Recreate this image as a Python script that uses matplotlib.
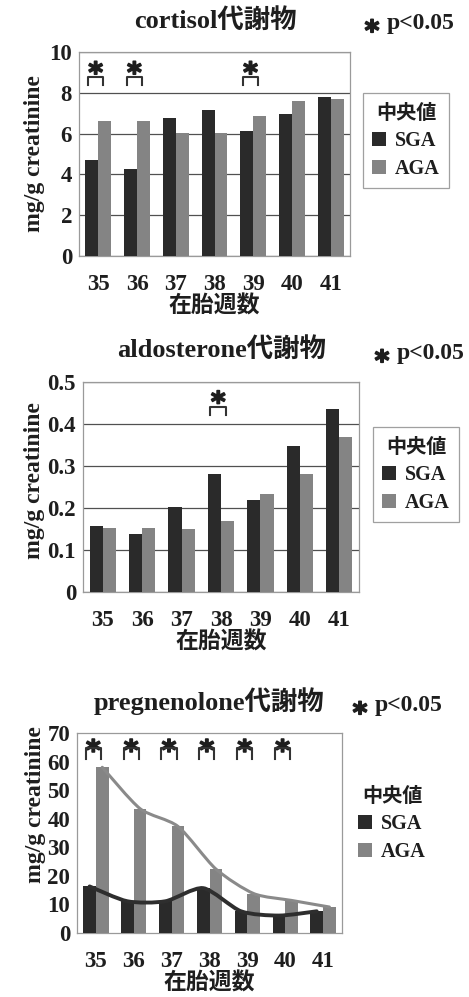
import numpy as np
import matplotlib
matplotlib.use('Agg')
import matplotlib.pyplot as plt
import matplotlib.patheffects as pe
from matplotlib.path import Path
from matplotlib.patches import PathPatch

plt.rcParams['font.family'] = ['Liberation Serif', 'Noto Sans CJK JP']
plt.rcParams['font.weight'] = 'bold'
plt.rcParams['axes.labelweight'] = 'bold'

weeks = ['35', '36', '37', '38', '39', '40', '41']

cortisol_sga = [4.7, 4.27, 6.75, 7.15, 6.12, 6.97, 7.8]
cortisol_aga = [6.62, 6.62, 6.05, 6.05, 6.85, 7.6, 7.7]
cortisol_sig = ['35', '36', '39']

aldo_sga = [0.158, 0.138, 0.202, 0.281, 0.218, 0.348, 0.435]
aldo_aga = [0.153, 0.153, 0.149, 0.170, 0.234, 0.281, 0.369]
aldo_sig = ['38']

preg_sga = [16.3, 11.1, 11.1, 15.7, 7.6, 6.1, 7.6]
preg_aga = [58.0, 43.5, 37.3, 22.4, 13.8, 11.4, 9.1]
preg_sig = ['35', '36', '37', '38', '39', '40']

SGA_C = '#2a2a2a'
AGA_C = '#848484'
TXT = '#1e1e1e'
W = 0.335
H = 997.0
Wd = 469.0
THICK = [pe.withStroke(linewidth=1.2, foreground=TXT)]

fig = plt.figure(figsize=(4.69, 9.97), dpi=100)


def smooth_line(ax, xs, ys, color, lw):
    pts = np.column_stack([xs, ys])
    ext = np.vstack([pts[0], pts, pts[-1]])
    verts = [tuple(pts[0])]
    codes = [Path.MOVETO]
    for i in range(len(pts) - 1):
        p0, p1, p2, p3 = ext[i], ext[i + 1], ext[i + 2], ext[i + 3]
        c1 = p1 + (p2 - p0) / 8
        c2 = p2 - (p3 - p1) / 8
        verts += [tuple(c1), tuple(c2), tuple(p2)]
        codes += [Path.CURVE4] * 3
    ax.add_patch(PathPatch(Path(verts, codes), fill=False, edgecolor=color,
                           lw=lw, zorder=4, capstyle='round', joinstyle='round'))


def panel(rect, sga, aga, ymax, yticks, ytl, sig, bracket, grid, title,
          tpos, ppos, leg_anchor, leg_frame, lines=False, ylpad=3, ylab_y=0.5):
    ax = fig.add_axes(rect)
    x = np.arange(len(weeks))
    ax.bar(x - W / 2, sga, W, color=SGA_C, zorder=3, label='SGA')
    ax.bar(x + W / 2, aga, W, color=AGA_C, zorder=3, label='AGA')
    if lines:
        smooth_line(ax, x - W / 2, sga, '#2e2e2e', 2.8)
        smooth_line(ax, x + W / 2, aga, '#8a8a8a', 2.2)
    ax.set_xlim(-0.5, len(weeks) - 0.5)
    ax.set_ylim(0, ymax)
    ax.set_yticks(yticks)
    ax.set_yticklabels(ytl, fontsize=16.5, color=TXT)
    ax.set_xticks(x)
    ax.set_xticklabels(weeks, fontsize=16.5, color=TXT)
    ax.tick_params(length=0, pad=5)
    ax.tick_params(axis='x', pad=13)
    if grid:
        ax.yaxis.grid(True, color='#505050', lw=0.9, zorder=1)
    for s in ax.spines.values():
        s.set_color('#9a9a9a')
        s.set_linewidth(0.9)
    ax.set_xlabel('在胎週数', fontsize=16.5, color=TXT, labelpad=0)
    ax.set_ylabel('mg/g creatinine', fontsize=17, color=TXT, labelpad=ylpad)
    ax.yaxis.label.set_y(ylab_y)
    # significance brackets
    tr = ax.get_xaxis_transform()
    lo, hi, sy = bracket
    for wk in sig:
        c = weeks.index(wk) - 0.07
        ax.plot([c - 0.2, c - 0.2, c + 0.2, c + 0.2], [lo, hi, hi, lo],
                transform=tr, color='#333333', lw=1.5, zorder=5, clip_on=False)
        ax.annotate('*', (c, sy), xycoords=tr, xytext=(0, -12),
                    textcoords='offset points', ha='center', va='baseline',
                    fontsize=20, color=TXT, family='DejaVu Sans',
                    weight='bold', annotation_clip=False, path_effects=THICK)
    fig.text(tpos[0] / Wd, 1 - tpos[1] / H, title, ha='center',
             va='baseline', fontsize=19, color=TXT)
    fig.text(ppos[0] / Wd, 1 - ppos[1] / H, 'p<0.05', ha='left',
             va='baseline', fontsize=17, color=TXT)
    fig.text((ppos[0] - 15) / Wd, 1 - (ppos[1] + 11) / H, '*', ha='center',
             va='baseline', fontsize=20, color=TXT, family='DejaVu Sans',
             weight='bold', path_effects=THICK)
    leg = ax.legend(loc='upper left', bbox_to_anchor=leg_anchor,
                    bbox_transform=fig.transFigure, borderaxespad=0,
                    title='中央値', frameon=leg_frame, fancybox=False,
                    prop={'size': 14.5, 'weight': 'bold'},
                    title_fontproperties={'size': 14.5, 'weight': 'bold',
                                          'family': 'Noto Sans CJK JP'},
                    handlelength=0.7, handleheight=0.7, handletextpad=0.45,
                    labelspacing=0.4, borderpad=0.45)
    leg.get_frame().set_edgecolor('#888888')
    leg.get_frame().set_linewidth(0.9)
    for t in leg.get_texts():
        t.set_color(TXT)
    leg.get_title().set_color(TXT)
    return ax


panel([79 / Wd, 1 - 256 / H, 271 / Wd, 204 / H], cortisol_sga, cortisol_aga,
      10, [0, 2, 4, 6, 8, 10], ['0', '2', '4', '6', '8', '10'],
      cortisol_sig, (0.84, 0.877, 0.935), True, 'cortisol代謝物',
      (215, 28), (387, 29), (363 / Wd, 1 - 93 / H), True)

panel([83 / Wd, 1 - 592 / H, 276 / Wd, 210 / H], aldo_sga, aldo_aga,
      0.5, [0, 0.1, 0.2, 0.3, 0.4, 0.5],
      ['0', '0.1', '0.2', '0.3', '0.4', '0.5'],
      aldo_sig, (0.845, 0.88, 0.94), True, 'aldosterone代謝物',
      (222, 357), (397, 359), (373 / Wd, 1 - 427 / H), True, ylpad=2,
      ylab_y=0.53)

panel([77 / Wd, 1 - 933 / H, 265 / Wd, 200 / H], preg_sga, preg_aga,
      70, [0, 10, 20, 30, 40, 50, 60, 70],
      ['0', '10', '20', '30', '40', '50', '60', '70'],
      preg_sig, (0.871, 0.923, 0.95), False, 'pregnenolone代謝物',
      (209, 710), (375, 711), (349 / Wd, 1 - 776 / H), False, lines=True,
      ylpad=1, ylab_y=0.64)

plt.savefig('out.png', dpi=100)
